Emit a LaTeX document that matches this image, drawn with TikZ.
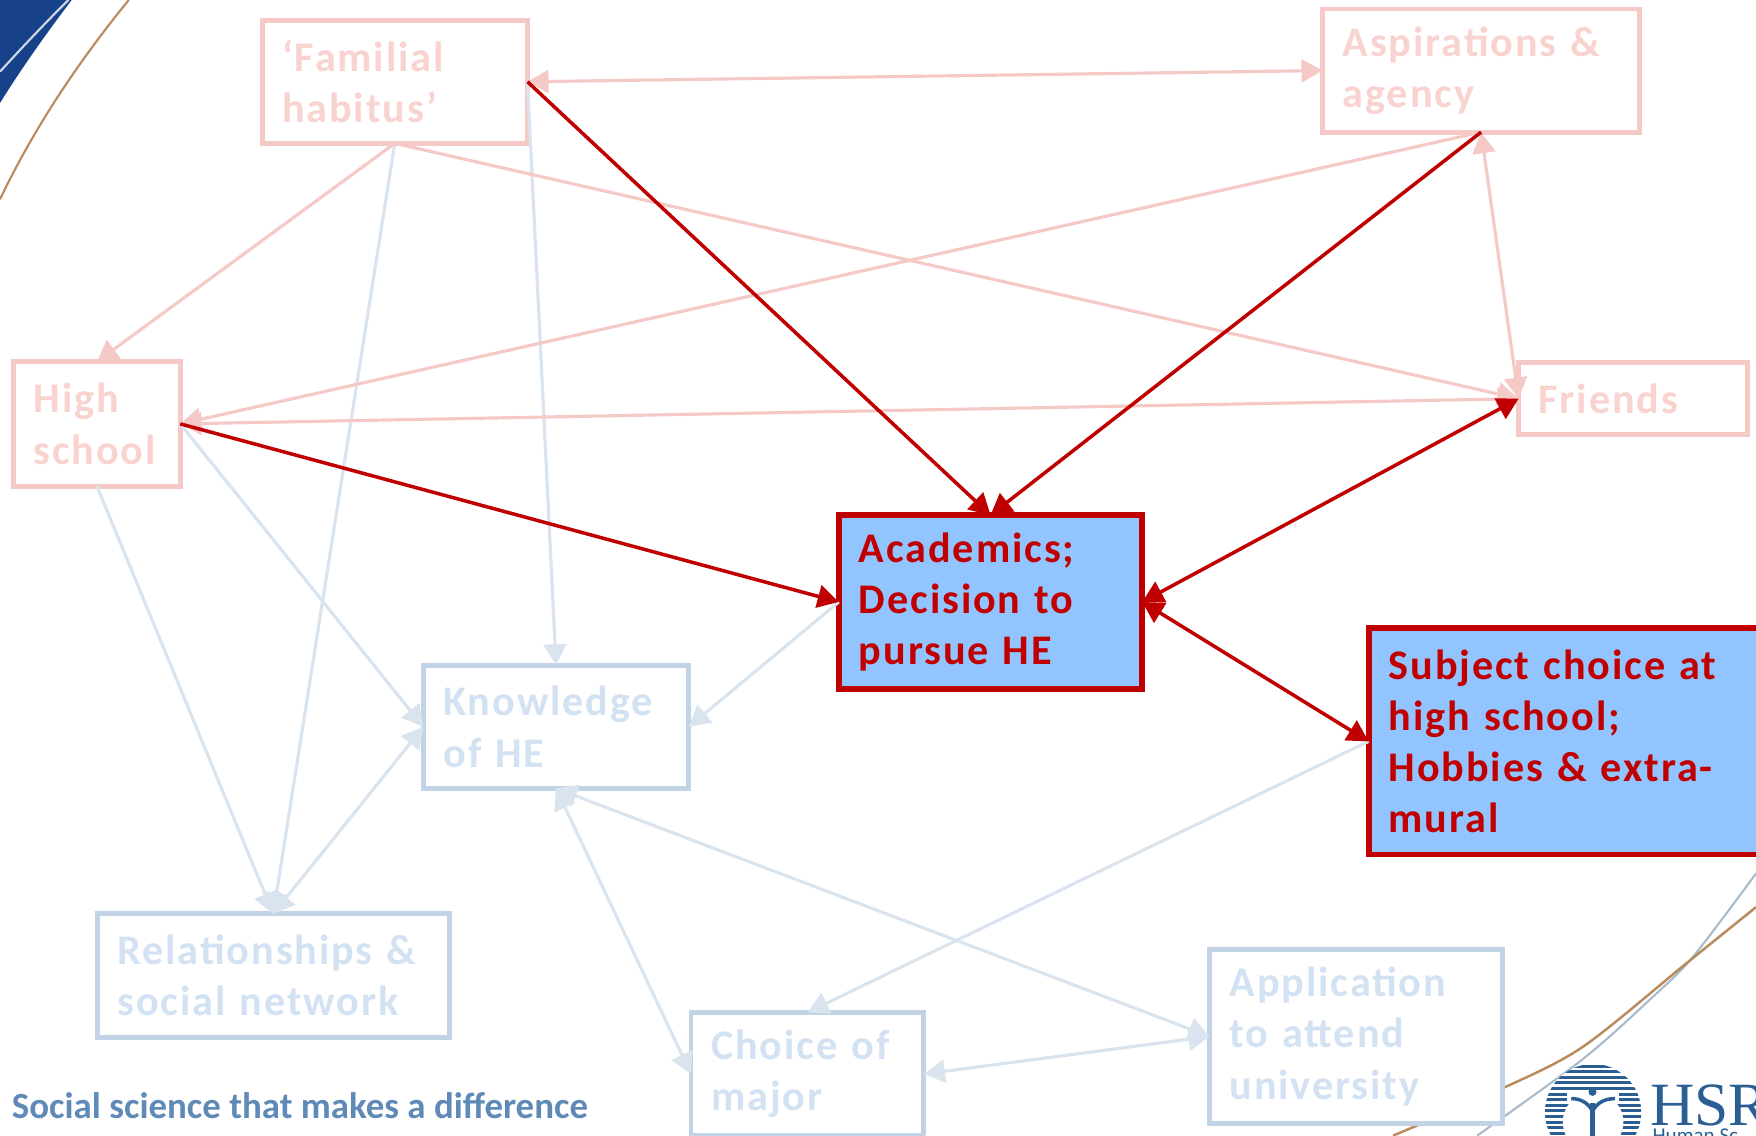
\documentclass[tikz,border=0pt]{standalone}
\usepackage{fontspec}
\usetikzlibrary{arrows.meta}
\setmainfont{Carlito}
\newfontfamily\boxfont[LetterSpace=4.5]{Carlito}
\newfontfamily\logofont{Liberation Serif}
\definecolor{pinkline}{HTML}{F5C9C6}
\definecolor{pinktext}{HTML}{F8D3D0}
\definecolor{blueline}{HTML}{DAE4EF}
\definecolor{bluebox}{HTML}{C3D3E6}
\definecolor{bluetext}{HTML}{D3E2F2}
\definecolor{redline}{HTML}{C00000}
\definecolor{skyfill}{HTML}{92C5FF}
\definecolor{navy}{HTML}{17428A}
\definecolor{logoblue}{HTML}{2B5F94}
\definecolor{tagblue}{HTML}{5F8AB8}
\definecolor{arcbrown}{HTML}{B98A5C}
\definecolor{arcgrey}{HTML}{A9BBCB}
\def\unitpx{0.0112cm}
\tikzset{
  boxsize/.style 2 args={minimum width=#1*\unitpx,minimum height=#2*\unitpx,text width=(#1-36)*\unitpx},
  basebox/.style={rectangle,draw,fill=white,inner xsep=18*\unitpx,inner ysep=0pt,outer sep=0pt,align=left,
    font=\boxfont\bfseries\fontsize{12}{14.6}\selectfont},
  pinkbox/.style={basebox,draw=pinkline,text=pinktext,line width=1.4pt},
  bluebox/.style={basebox,draw=bluebox,text=bluetext,line width=1.4pt},
  redbox/.style={basebox,draw=redline,fill=skyfill,text=redline,line width=1.7pt},
  pinkarrow/.style={draw=pinkline,line width=0.9pt,-{Triangle[length=6pt,width=6.5pt]}},
  bluearrow/.style={draw=blueline,line width=0.9pt,-{Triangle[length=6pt,width=6.5pt]}},
  redarrow/.style={draw=redline,line width=1pt,-{Triangle[length=6pt,width=6.5pt]}},
  twoway/.style={{Triangle[length=6pt,width=6.5pt]}-{Triangle[length=6pt,width=6.5pt]}}
}
\begin{document}
\begin{tikzpicture}[x=0.0112cm,y=-0.0112cm]
\path[use as bounding box,clip] (0,0) rectangle (1568,1014);
\fill[navy] (0,0) -- (64,0) .. controls (39,33) and (18,63) .. (0,92) -- cycle;
\draw[white!80!navy,line width=0.6pt] (61,0) .. controls (40,21) and (20,42) .. (0,64);
\draw[arcbrown,line width=0.6pt] (115,0) .. controls (70,55) and (30,115) .. (0,178);
\draw[arcgrey,line width=0.6pt] plot[smooth] coordinates {(1568,780) (1512,854) (1476,890) (1413,946) (1319,1014)};
\draw[arcbrown,line width=0.7pt] plot[smooth] coordinates {(1568,810) (1506,860) (1413,935) (1339,973) (1244,1014)};
% logo
\begin{scope}
\clip (1422.5,993) circle (43);
\fill[white] (1379,950) rectangle (1466,1036);
\foreach \yy in {952,957,...,1012}
  \draw[logoblue,line width=0.85pt] (1379,\yy) to (1466,\yy);
\fill[white] (1422.5,1002) circle (27);
\fill[white] (1399,974) rectangle (1446,984);
\end{scope}
\fill[logoblue] (1422,975) circle (3.6);
\draw[logoblue,line width=1pt] (1403,981) to[out=0,in=120] (1422,992) to[out=60,in=180] (1442,981);
\draw[logoblue,line width=1.5pt] (1422,985) to (1422,1014);
\node[anchor=base west,inner sep=0pt,text=logoblue,font=\logofont\fontsize{17.5}{17.5}\selectfont] (hsr) at (1473,1005) {HSR};
\node[anchor=base west,inner sep=0pt,text=logoblue,font=\fontsize{6}{6}\selectfont] (hsrsub) at (1475,1020) {Human Sc};
\node[anchor=west,inner sep=0pt,text=tagblue,font=\bfseries\fontsize{10.5}{12}\selectfont] (tagline) at (10,987) {Social science that makes a difference};
% boxes
\node[pinkbox,boxsize={237}{110}] (familial) at (352.5,73) {‘Familial\\habitus’};
\node[pinkbox,boxsize={283}{110}] (aspire) at (1322.5,63) {Aspirations \&\\agency};
\node[pinkbox,boxsize={149}{111}] (school) at (86.5,378.5) {High\\school};
\node[pinkbox,boxsize={204}{64}] (friends) at (1458,356) {Friends};
\node[bluebox,boxsize={237}{110}] (knowledge) at (496.5,649) {Knowledge\\of HE};
\node[bluebox,boxsize={314}{110}] (network) at (244,871) {Relationships \&\\social network};
\node[bluebox,boxsize={208}{110}] (major) at (721,959) {Choice of\\major};
\node[bluebox,boxsize={262}{155}] (apply) at (1211,925.5) {Application\\to attend\\university};
\node[redbox,boxsize={271}{155}] (academics) at (884.5,537.5) {Academics;\\Decision to\\pursue HE};
\node[redbox,boxsize={350}{202}] (subject) at (1397,662) {Subject choice at\\high school;\\Hobbies \& extra-\\mural};
% faded links
\draw[bluearrow] (familial.south) to (network.north);
\draw[bluearrow] (familial.east) to (knowledge.north);
\draw[bluearrow] (school.east) to (knowledge.west);
\draw[bluearrow] (school.south) to (network.north);
\draw[bluearrow,twoway] (knowledge.west) to (network.north);
\draw[bluearrow] (academics.west) to (knowledge.east);
\draw[bluearrow,twoway] (knowledge.south) to (apply.west);
\draw[bluearrow,twoway] (knowledge.south) to (major.west);
\draw[bluearrow] (subject.west) to (major.north);
\draw[bluearrow,twoway] (apply.west) to (major.east);
\draw[pinkarrow,twoway] (familial.east) to (aspire.west);
\draw[pinkarrow] (familial.south) to (school.north);
\draw[pinkarrow] (familial.south) to (friends.west);
\draw[pinkarrow] (aspire.south) to (school.east);
\draw[pinkarrow,twoway] (aspire.south) to (friends.west);
\draw[pinkarrow,twoway] (school.east) to (friends.west);
% strong links
\draw[redarrow] (familial.east) to (academics.north);
\draw[redarrow] (aspire.south) to (academics.north);
\draw[redarrow] (school.east) to (academics.west);
\draw[redarrow,twoway] (friends.west) to (academics.east);
\draw[redarrow,twoway] (academics.east) to (subject.west);
\end{tikzpicture}
\end{document}
